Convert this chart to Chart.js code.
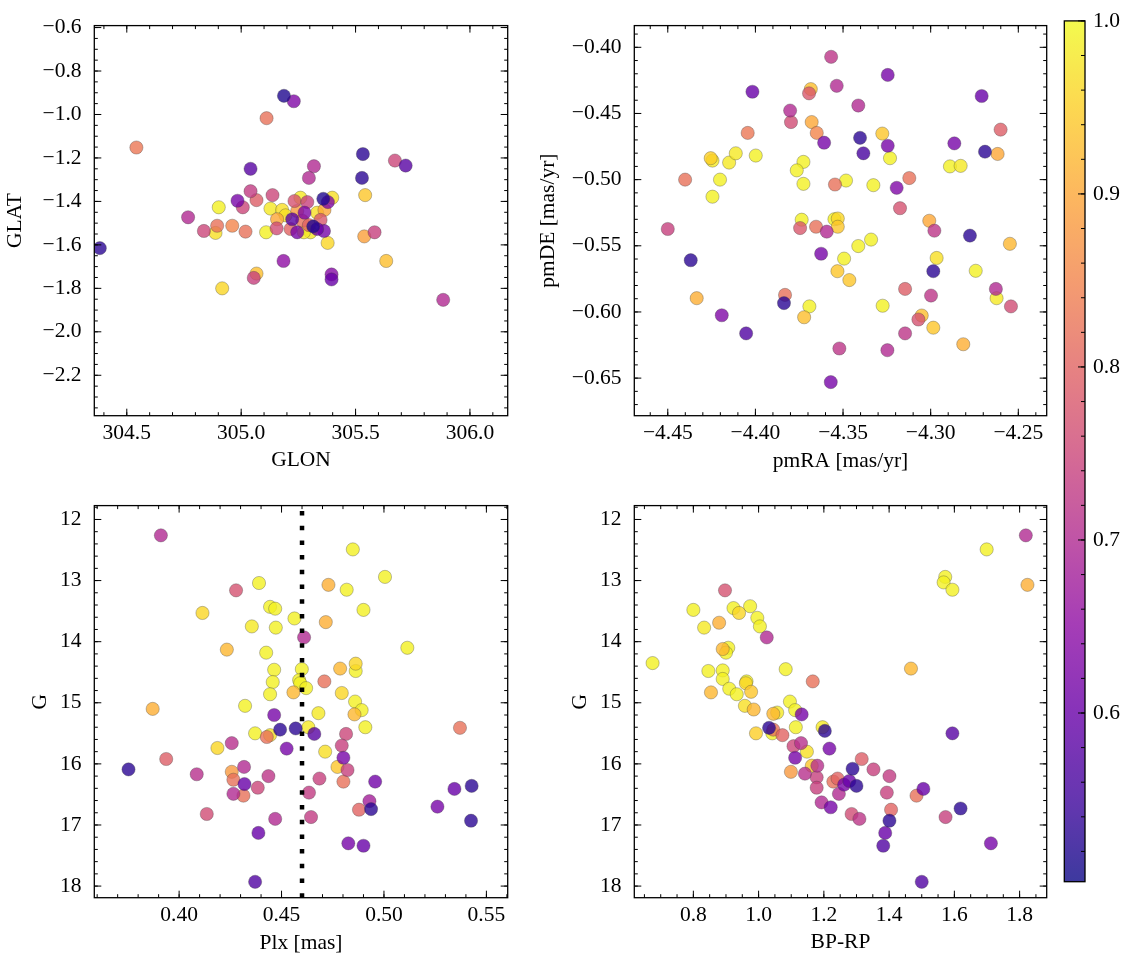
<!DOCTYPE html>
<html><head><meta charset="utf-8">
<script src="https://cdn.jsdelivr.net/npm/chart.js@4.4.1/dist/chart.umd.min.js"></script>
<style>
html,body{margin:0;padding:0;background:#fff;}
body{width:1133px;height:965px;position:relative;overflow:hidden;}
canvas{position:absolute;}
</style></head><body>
<canvas id="c1" width="540" height="480" style="left:0px;top:0px"></canvas>
<canvas id="c2" width="530" height="480" style="left:530px;top:0px"></canvas>
<canvas id="c3" width="540" height="485" style="left:0px;top:480px"></canvas>
<canvas id="c4" width="530" height="485" style="left:530px;top:480px"></canvas>
<canvas id="cb" width="73" height="965" style="left:1060px;top:0px"></canvas>
<script>
// ---------------- DATA ----------------
// Panel 1: GLON vs GLAT
const glon = [305.187,305.230,305.111,304.542,305.532,305.672,305.719,305.041,305.318,305.296,305.528,305.542,305.041,305.067,305.137,304.984,305.007,304.902,304.768,304.837,304.895,304.888,304.961,305.019,305.109,304.917,305.067,305.055,305.185,305.395,305.395,305.634,305.583,305.538,305.378,305.883,304.382,305.128,305.179,305.157,305.155,305.233,305.259,305.289,305.277,305.223,305.245,305.216,305.303,305.274,305.315,305.347,305.362,305.332,305.359,305.379,305.398,305.364,305.194,305.267,305.245,305.332,305.296];
const glat = [-0.914,-0.939,-1.017,-1.152,-1.182,-1.212,-1.235,-1.250,-1.238,-1.292,-1.292,-1.371,-1.353,-1.394,-1.371,-1.397,-1.427,-1.427,-1.473,-1.536,-1.512,-1.545,-1.512,-1.539,-1.542,-1.800,-1.732,-1.752,-1.674,-1.736,-1.759,-1.674,-1.542,-1.561,-1.591,-1.853,-1.615,-1.433,-1.439,-1.482,-1.524,-1.398,-1.383,-1.403,-1.452,-1.482,-1.542,-1.527,-1.542,-1.542,-1.515,-1.485,-1.536,-1.527,-1.388,-1.403,-1.383,-1.439,-1.464,-1.489,-1.444,-1.452,-1.509];
const probPos = [0.52,0.63,0.82,0.83,0.53,0.75,0.58,0.58,0.70,0.70,0.53,0.94,0.73,0.79,0.75,0.62,0.75,0.99,0.70,0.75,0.82,0.97,0.85,0.82,0.99,0.96,0.93,0.74,0.65,0.64,0.60,0.93,0.74,0.89,0.96,0.70,0.53,0.98,0.97,0.90,0.76,0.77,0.98,0.74,0.63,0.58,0.62,0.80,0.98,0.98,0.52,0.78,0.62,0.60,0.52,0.63,0.97,0.90,0.97,0.82,0.88,0.97,0.80];

// Panel 2: pmRA vs pmDE
const pmra = [-4.3568,-4.3245,-4.4017,-4.3684,-4.3694,-4.3536,-4.2709,-4.3413,-4.3802,-4.3797,-4.3679,-4.3650,-4.4044,-4.2601,-4.3403,-4.3276,-4.3608,-4.3245,-4.3384,-4.2865,-4.2690,-4.2618,-4.4255,-4.4245,-4.4150,-4.4112,-4.3998,-4.3726,-4.3764,-4.3232,-4.2890,-4.2829,-4.4401,-4.4202,-4.4245,-4.3726,-4.3546,-4.3483,-4.3327,-4.3194,-4.3122,-4.3175,-4.3736,-4.3745,-4.3654,-4.3593,-4.3530,-4.3549,-4.3530,-4.4500,-4.3008,-4.2979,-4.2776,-4.2548,-4.3340,-4.3413,-4.3625,-4.4369,-4.3494,-4.2966,-4.3532,-4.3464,-4.2985,-4.2743,-4.4335,-4.3831,-4.3837,-4.3692,-4.3722,-4.4192,-4.4053,-4.3274,-4.3146,-4.2998,-4.3051,-4.3070,-4.2985,-4.3146,-4.2814,-4.2624,-4.2628,-4.2542,-4.3521,-4.3247,-4.3570];
const pmde = [-0.4072,-0.4209,-0.4336,-0.4316,-0.4348,-0.4291,-0.4368,-0.4440,-0.4478,-0.4565,-0.4565,-0.4647,-0.4647,-0.4622,-0.4684,-0.4652,-0.4721,-0.4744,-0.4801,-0.4726,-0.4789,-0.4806,-0.4838,-0.4856,-0.4871,-0.4801,-0.4818,-0.4866,-0.4930,-0.4838,-0.4900,-0.4896,-0.5000,-0.5000,-0.5129,-0.5032,-0.5037,-0.5007,-0.5042,-0.5062,-0.4988,-0.5216,-0.5303,-0.5366,-0.5356,-0.5393,-0.5294,-0.5299,-0.5356,-0.5373,-0.5311,-0.5386,-0.5423,-0.5485,-0.5453,-0.5502,-0.5560,-0.5609,-0.5597,-0.5592,-0.5692,-0.5759,-0.5692,-0.5689,-0.5896,-0.5871,-0.5933,-0.5958,-0.6040,-0.6025,-0.6162,-0.5953,-0.5826,-0.5876,-0.6027,-0.6057,-0.6119,-0.6162,-0.6244,-0.5896,-0.5826,-0.5958,-0.6276,-0.6289,-0.6530];
const probPm = [0.72,0.62,0.60,0.93,0.78,0.70,0.60,0.70,0.70,0.76,0.90,0.85,0.83,0.79,0.53,0.94,0.62,0.62,0.56,0.62,0.53,0.90,0.95,0.98,0.98,0.98,0.99,0.99,0.99,0.99,0.99,0.98,0.82,0.99,0.99,0.99,0.82,0.99,0.99,0.63,0.82,0.77,0.99,0.78,0.82,0.70,0.96,0.99,0.94,0.74,0.90,0.72,0.53,0.92,0.99,0.99,0.62,0.53,0.99,0.97,0.94,0.94,0.53,0.99,0.91,0.82,0.53,0.99,0.93,0.63,0.57,0.99,0.79,0.72,0.93,0.77,0.94,0.72,0.91,0.98,0.70,0.76,0.72,0.70,0.62];

// Panel 3: Plx vs G
const plx = [0.3911,0.4848,0.5005,0.4390,0.4729,0.4818,0.4278,0.4114,0.4444,0.4469,0.4900,0.4563,0.4355,0.4472,0.4716,0.4610,0.4233,0.4425,0.5114,0.4464,0.4599,0.4786,0.4862,0.4862,0.4457,0.4586,0.4591,0.4620,0.4709,0.4558,0.4444,0.4794,0.3871,0.4322,0.4859,0.4891,0.4680,0.4856,0.4909,0.4464,0.4493,0.4569,0.4371,0.4444,0.4428,0.4631,0.4660,0.4815,0.5371,0.4187,0.4257,0.4525,0.4713,0.4794,0.3937,0.3753,0.4802,0.4086,0.4257,0.4317,0.4773,0.4822,0.4265,0.4436,0.4685,0.4802,0.4319,0.4957,0.4265,0.4314,0.4384,0.4634,0.5344,0.5428,0.5261,0.4929,0.4937,0.4878,0.4135,0.4469,0.4644,0.5425,0.4387,0.4826,0.4900,0.4371];
const gPlx = [12.26,12.49,12.94,13.04,13.07,13.15,13.16,13.53,13.43,13.46,13.48,13.62,13.75,13.77,13.68,13.93,14.13,14.18,14.10,14.46,14.45,14.44,14.36,14.48,14.66,14.63,14.68,14.76,14.65,14.83,14.86,14.84,15.10,15.05,14.98,15.12,15.17,15.19,15.40,15.20,15.44,15.42,15.50,15.53,15.56,15.40,15.51,15.51,15.41,15.74,15.66,15.75,15.80,15.70,15.92,16.09,15.90,16.17,16.13,16.05,16.05,16.10,16.26,16.20,16.24,16.29,16.33,16.29,16.49,16.52,16.39,16.47,16.41,16.36,16.70,16.61,16.74,16.75,16.82,16.90,16.87,16.93,17.13,17.30,17.34,17.93];
const probPlx = [0.70,0.99,0.99,0.99,0.91,0.99,0.77,0.96,0.99,0.99,0.99,0.99,0.98,0.99,0.91,0.70,0.92,0.99,0.99,0.99,0.99,0.92,0.96,0.99,0.99,0.99,0.99,0.99,0.82,0.92,0.99,0.96,0.91,0.99,0.99,0.99,0.98,0.92,0.99,0.62,0.53,0.53,0.99,0.97,0.82,0.98,0.58,0.75,0.82,0.96,0.71,0.62,0.97,0.74,0.79,0.53,0.62,0.71,0.88,0.70,0.94,0.74,0.82,0.72,0.74,0.82,0.60,0.61,0.70,0.82,0.75,0.73,0.60,0.53,0.62,0.68,0.53,0.80,0.76,0.70,0.73,0.53,0.60,0.62,0.60,0.57];
const plxRef = 0.46;

// Panel 4: BP-RP vs G
const bprp = [1.819,1.699,1.572,1.567,1.594,1.824,0.897,0.800,0.923,0.940,0.974,0.996,1.004,0.833,0.879,1.025,0.890,0.907,0.900,0.675,1.083,1.467,0.846,0.890,0.890,0.963,0.961,1.166,0.854,0.910,0.933,0.977,0.958,0.985,1.096,1.112,1.057,1.045,1.132,1.114,1.032,1.045,1.042,0.992,1.073,1.196,1.203,1.594,1.107,1.130,1.148,1.217,1.112,1.163,1.180,1.288,1.316,1.352,1.099,1.142,1.178,1.242,1.229,1.262,1.278,1.300,1.401,1.178,1.246,1.393,1.484,1.505,1.193,1.221,1.285,1.309,1.406,1.401,1.619,1.573,1.388,1.382,1.712,1.500];
const gCmd = [12.26,12.49,12.94,13.03,13.15,13.07,13.16,13.48,13.45,13.53,13.42,13.61,13.75,13.77,13.69,13.93,14.12,14.10,14.18,14.35,14.45,14.44,14.48,14.47,14.61,14.65,14.68,14.65,14.83,14.77,14.86,14.82,15.05,15.11,14.98,15.12,15.16,15.18,15.19,15.40,15.41,15.44,15.50,15.50,15.53,15.40,15.46,15.50,15.71,15.66,15.80,15.75,15.90,16.03,16.03,16.08,15.92,16.09,16.13,16.16,16.22,16.24,16.29,16.34,16.28,16.36,16.20,16.39,16.49,16.47,16.52,16.41,16.63,16.71,16.82,16.90,16.75,16.93,16.73,16.87,17.13,17.34,17.30,17.93];
const probCmd = [0.70,0.99,0.99,0.99,0.99,0.91,0.77,0.99,0.99,0.96,0.99,0.99,0.99,0.98,0.91,0.70,0.92,0.99,0.99,0.99,0.99,0.92,0.99,0.99,0.99,0.99,0.96,0.82,0.92,0.99,0.99,0.94,0.97,0.92,0.99,0.99,0.98,0.92,0.62,0.99,0.53,0.82,0.99,0.95,0.80,0.98,0.53,0.58,0.75,0.71,0.97,0.62,0.62,0.94,0.71,0.53,0.79,0.74,0.88,0.71,0.74,0.80,0.82,0.62,0.60,0.53,0.73,0.74,0.70,0.74,0.82,0.60,0.70,0.62,0.76,0.72,0.80,0.53,0.53,0.74,0.60,0.57,0.62,0.57];

// Axis limits and tick labels
const glonLim = [304.358, 306.165], glatLim = [-2.386, -0.591];
const pmraLim = [-4.4691, -4.2338], pmdeLim = [-0.6784, -0.3836];
const plxLim = [0.3586, 0.5604], gLim = [11.773, 18.19];
const bprpLim = [0.619, 1.883];
const cbLim = [0.5025, 1.0];
const glonTicks = [304.5, 305.0, 305.5, 306.0];
const glatTicks = [-0.6, -0.8, -1.0, -1.2, -1.4, -1.6, -1.8, -2.0, -2.2];
const pmraTicks = [-4.45, -4.40, -4.35, -4.30, -4.25];
const pmdeTicks = [-0.40, -0.45, -0.50, -0.55, -0.60, -0.65];
const plxTicks = [0.40, 0.45, 0.50, 0.55];
const gTicks = [12, 13, 14, 15, 16, 17, 18];
const bprpTicks = [0.8, 1.0, 1.2, 1.4, 1.6, 1.8];
const cbTicks = [0.6, 0.7, 0.8, 0.9, 1.0];

// ---------------- STYLE ----------------
const FAMILY = '"Liberation Serif", "DejaVu Serif", serif';
const FSIZE = 21.5;
const HALF_LH = FSIZE * 1.2 / 2;
Chart.defaults.font.family = FAMILY;
Chart.defaults.font.size = FSIZE;
Chart.defaults.color = '#000';

const PLASMA = ['#0d0887','#41049d','#6a00a8','#8f0da4','#b12a90','#cc4778','#e16462','#f2844b','#fca636','#fcce25','#f0f921'];
const ALPHA = 0.8;
function hexRgb(h){return [parseInt(h.slice(1,3),16),parseInt(h.slice(3,5),16),parseInt(h.slice(5,7),16)];}
function plasma(t, a){
  t = Math.max(0, Math.min(1, t));
  const f = t*10, i = Math.min(9, Math.floor(f)), u = f - i;
  const c0 = hexRgb(PLASMA[i]), c1 = hexRgb(PLASMA[i+1]);
  const c = c0.map((v,k)=>Math.round(v + (c1[k]-v)*u));
  return 'rgba(' + c[0] + ',' + c[1] + ',' + c[2] + ',' + a + ')';
}
const colorOf = p => plasma((p - cbLim[0])/(cbLim[1]-cbLim[0]), ALPHA);

function range(a, b, step){
  const out = [];
  const s = Math.ceil(a/step - 1e-6);
  for (let k = s; k*step <= b + 1e-9; k++) out.push(+(k*step).toFixed(6));
  return out;
}
function fmt(dec){ return v => { const s = Math.abs(v).toFixed(dec); return (v < -1e-12 ? '\u2212' : '') + s; }; }

function makeDataset(xs, ys, ps){
  const order = ps.map((p,i)=>i).sort((a,b)=>ps[b]-ps[a]);
  return {
    data: order.map(i=>({x: xs[i], y: ys[i]})),
    backgroundColor: order.map(i=>colorOf(ps[i])),
    borderColor: 'rgba(60,60,60,0.55)',
    borderWidth: 0.6,
    pointRadius: 6.6,
    pointHoverRadius: 6.6
  };
}

const axesFrame = {
  id: 'axesFrame',
  afterDatasetsDraw(chart, args, o){
    const {ctx, chartArea: a} = chart;
    const x = chart.scales.x, y = chart.scales.y;
    ctx.save();
    if (o.refX !== undefined) {
      const px = x.getPixelForValue(o.refX);
      ctx.strokeStyle = '#000';
      ctx.lineWidth = 4.5;
      ctx.setLineDash([4.5, 10.2]);
      ctx.lineCap = 'butt';
      ctx.beginPath(); ctx.moveTo(px, a.bottom); ctx.lineTo(px, a.top); ctx.stroke();
      ctx.setLineDash([]);
    }
    ctx.strokeStyle = '#000';
    ctx.lineWidth = 1;
    ctx.beginPath();
    const inX = p => p >= a.left - 0.5 && p <= a.right + 0.5;
    const inY = p => p >= a.top - 0.5 && p <= a.bottom + 0.5;
    const xt = (vals, len) => vals.forEach(v => { const p = x.getPixelForValue(v); if (!inX(p)) return;
      ctx.moveTo(p, a.bottom); ctx.lineTo(p, a.bottom - len); ctx.moveTo(p, a.top); ctx.lineTo(p, a.top + len); });
    const yt = (vals, len) => vals.forEach(v => { const p = y.getPixelForValue(v); if (!inY(p)) return;
      ctx.moveTo(a.left, p); ctx.lineTo(a.left + len, p); ctx.moveTo(a.right, p); ctx.lineTo(a.right - len, p); });
    xt(range(x.min, x.max, o.xMinor), 3.5);
    yt(range(y.min, y.max, o.yMinor), 3.5);
    xt(o.xMajor, 7);
    yt(o.yMajor, 7);
    ctx.stroke();
    ctx.lineWidth = 1.3;
    ctx.strokeRect(a.left, a.top, a.right - a.left, a.bottom - a.top);
    ctx.restore();
  }
};

function panel(cfg){
  const font = {family: FAMILY, size: FSIZE};
  new Chart(document.getElementById(cfg.id), {
    type: 'scatter',
    data: {datasets: [makeDataset(cfg.xs, cfg.ys, cfg.ps)]},
    options: {
      responsive: false, animation: false, devicePixelRatio: 1,
      layout: {padding: {left: 0, top: cfg.padTop, right: cfg.padRight, bottom: 0}},
      plugins: {
        legend: {display: false}, tooltip: {enabled: false},
        axesFrame: {xMajor: cfg.xTicks, yMajor: cfg.yTicks, xMinor: cfg.xMinor, yMinor: cfg.yMinor, refX: cfg.refX}
      },
      scales: {
        x: {
          type: 'linear', min: cfg.xLim[0], max: cfg.xLim[1],
          grid: {display: false, drawTicks: false}, border: {display: false},
          ticks: {font, color: '#000', padding: 4.4, maxRotation: 0, autoSkip: false, includeBounds: false, callback: fmt(cfg.xDec)},
          title: {display: true, text: cfg.xTitle, font, color: '#000', padding: {top: 0, bottom: cfg.xTitleC - HALF_LH}},
          afterBuildTicks: s => { s.ticks = cfg.xTicks.map(v => ({value: v})); },
          afterFit: s => { s.height = cfg.xHeight; }
        },
        y: {
          type: 'linear', min: cfg.yLim[0], max: cfg.yLim[1], reverse: !!cfg.yRev,
          grid: {display: false, drawTicks: false}, border: {display: false},
          ticks: {font, color: '#000', padding: 12.7, autoSkip: false, includeBounds: false, callback: fmt(cfg.yDec)},
          title: {display: true, text: cfg.yTitle, font, color: '#000', padding: {top: cfg.yTitleC - HALF_LH, bottom: 0}},
          afterBuildTicks: s => { s.ticks = cfg.yTicks.map(v => ({value: v})); },
          afterFit: s => { s.width = cfg.yWidth; }
        }
      }
    },
    plugins: [axesFrame]
  });
}

// xTitleC: distance of x-title centre above canvas bottom; yTitleC: y-title centre from canvas left
panel({id:'c1', xs: glon, ys: glat, ps: probPos, xLim: glonLim, yLim: glatLim, xTicks: glonTicks, yTicks: glatTicks,
  xMinor: 0.1, yMinor: 0.05, xDec: 1, yDec: 1, xTitle: 'GLON', yTitle: 'GLAT',
  padTop: 20.7, padRight: 32.3, yWidth: 94.3, xHeight: 64.3, xTitleC: 20, yTitleC: 15.5});
panel({id:'c2', xs: pmra, ys: pmde, ps: probPm, xLim: pmraLim, yLim: pmdeLim, xTicks: pmraTicks, yTicks: pmdeTicks,
  xMinor: 0.01, yMinor: 0.01, xDec: 2, yDec: 2, xTitle: 'pmRA [mas/yr]', yTitle: 'pmDE [mas/yr]',
  padTop: 20.7, padRight: 13.3, yWidth: 104.3, xHeight: 64.3, xTitleC: 19, yTitleC: 18.5});
panel({id:'c3', xs: plx, ys: gPlx, ps: probPlx, xLim: plxLim, yLim: gLim, yRev: true, xTicks: plxTicks, yTicks: gTicks,
  xMinor: 0.01, yMinor: 0.2, xDec: 2, yDec: 0, xTitle: 'Plx [mas]', yTitle: 'G', refX: plxRef,
  padTop: 22.7, padRight: 32.3, yWidth: 94.3, xHeight: 67.3, xTitleC: 21.5, yTitleC: 40});
panel({id:'c4', xs: bprp, ys: gCmd, ps: probCmd, xLim: bprpLim, yLim: gLim, yRev: true, xTicks: bprpTicks, yTicks: gTicks,
  xMinor: 0.05, yMinor: 0.2, xDec: 1, yDec: 0, xTitle: 'BP-RP', yTitle: 'G',
  padTop: 22.7, padRight: 13.3, yWidth: 104.3, xHeight: 67.3, xTitleC: 22.5, yTitleC: 50});

// ---------------- COLORBAR ----------------
const colorbar = {
  id: 'colorbarFill',
  beforeDatasetsDraw(chart){
    const {ctx, chartArea: a} = chart;
    const y = chart.scales.y;
    ctx.save();
    const g = ctx.createLinearGradient(0, a.bottom, 0, a.top);
    for (let k = 0; k <= 50; k++) g.addColorStop(k/50, plasma(k/50, ALPHA));
    ctx.fillStyle = g;
    ctx.fillRect(a.left, a.top, a.right - a.left, a.bottom - a.top);
    ctx.strokeStyle = '#000'; ctx.lineWidth = 1;
    ctx.beginPath();
    range(y.min, y.max, 0.02).forEach(v => { const p = y.getPixelForValue(v); ctx.moveTo(a.right, p); ctx.lineTo(a.right - 4, p); });
    cbTicks.forEach(v => { const p = y.getPixelForValue(v); ctx.moveTo(a.right, p); ctx.lineTo(a.right - 7, p); });
    ctx.stroke();
    ctx.lineWidth = 1.3;
    ctx.strokeRect(a.left, a.top, a.right - a.left, a.bottom - a.top);
    ctx.restore();
  }
};
new Chart(document.getElementById('cb'), {
  type: 'scatter',
  data: {datasets: [{data: []}]},
  options: {
    responsive: false, animation: false, devicePixelRatio: 1,
    layout: {padding: {left: 4.3, top: 15.5, right: 0, bottom: 83.3}},
    plugins: {legend: {display: false}, tooltip: {enabled: false}},
    scales: {
      x: {display: false, min: 0, max: 1},
      y: {
        position: 'right', min: cbLim[0], max: cbLim[1],
        grid: {display: false, drawTicks: false}, border: {display: false},
        ticks: {font: {family: FAMILY, size: FSIZE}, color: '#000', padding: 8, includeBounds: false, callback: fmt(1)},
        afterBuildTicks: s => { s.ticks = cbTicks.map(v => ({value: v})); },
        afterFit: s => { s.width = 48; }
      }
    }
  },
  plugins: [colorbar]
});
</script>
</body></html>
